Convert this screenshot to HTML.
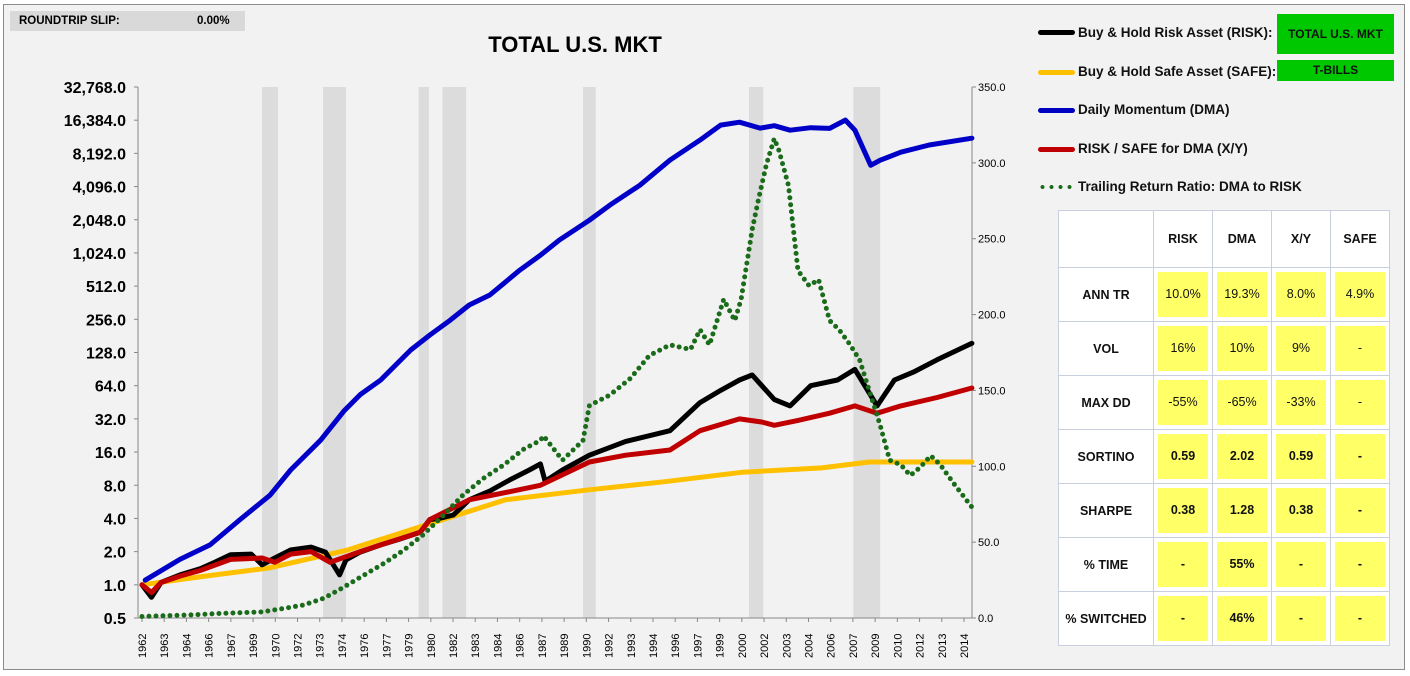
<!DOCTYPE html>
<html><head><meta charset="utf-8"><style>
body{margin:0;background:#fff;font-family:"Liberation Sans",sans-serif;}
#wrap{position:relative;width:1410px;height:676px;background:#fff;}
#frame{position:absolute;left:3px;top:4px;width:1402px;height:666px;background:#f2f2f2;border:1px solid #8c8c8c;box-sizing:border-box;}
.abs{position:absolute;}
.leg{position:absolute;left:1078px;font-weight:bold;font-size:13.5px;color:#111;}
.gbox{position:absolute;background:#00c800;font-weight:bold;font-size:12px;text-align:center;color:#111;}
table{position:absolute;left:1058px;top:210px;border-collapse:collapse;background:#fff;}
td{border:1px solid #c8d0e0;text-align:center;font-size:12.5px;font-weight:bold;color:#111;padding:0;}
td.y span{display:block;background:#ffff66;margin:4px;height:45px;line-height:45px;font-weight:normal;}
tr.b td.y span{font-weight:bold;}
</style></head><body>
<div id="wrap">
<div id="frame"></div>
<div class="abs" style="left:10px;top:11px;width:235px;height:20px;background:#d9d9d9;font-size:11.5px;font-weight:bold;line-height:20px;"><span style="margin-left:9px">ROUNDTRIP SLIP:</span><span style="position:absolute;left:187px">0.00%</span></div>
<div class="abs" style="left:430px;top:32px;width:290px;text-align:center;font-weight:bold;font-size:22px;">TOTAL U.S. MKT</div>
<svg id="svg" class="abs" style="left:0;top:0" width="1410" height="676"></svg>
<div class="abs" style="left:1038px;top:30px;width:37px;height:5px;background:#000;border-radius:3px"></div>
<div class="leg" style="top:25px">Buy &amp; Hold Risk Asset (RISK):</div>
<div class="abs" style="left:1038px;top:70px;width:37px;height:5px;background:#ffc000;border-radius:3px"></div>
<div class="leg" style="top:64px">Buy &amp; Hold Safe Asset (SAFE):</div>
<div class="abs" style="left:1038px;top:108px;width:37px;height:5px;background:#0000c0;border-radius:3px"></div>
<div class="leg" style="top:102px">Daily Momentum (DMA)</div>
<div class="abs" style="left:1038px;top:147px;width:37px;height:5px;background:#c00000;border-radius:3px"></div>
<div class="leg" style="top:141px">RISK / SAFE for DMA (X/Y)</div>
<div class="abs" style="left:1038px;top:185px;width:37px;height:4px;background:radial-gradient(circle,#1a6b1a 1.8px,transparent 2.2px) 0 0/9px 4px repeat-x"></div>
<div class="leg" style="top:179px">Trailing Return Ratio: DMA to RISK</div>
<div class="gbox" style="left:1277px;top:14px;width:117px;height:40px;line-height:40px">TOTAL U.S. MKT</div>
<div class="gbox" style="left:1277px;top:60px;width:117px;height:21px;line-height:21px">T-BILLS</div>
<table>
<tr style="height:57px"><td style="width:94px"></td><td style="width:58px">RISK</td><td style="width:58px">DMA</td><td style="width:58px">X/Y</td><td style="width:58px">SAFE</td></tr>
<tr><td>ANN TR</td><td class="y"><span>10.0%</span></td><td class="y"><span>19.3%</span></td><td class="y"><span>8.0%</span></td><td class="y"><span>4.9%</span></td></tr>
<tr><td>VOL</td><td class="y"><span>16%</span></td><td class="y"><span>10%</span></td><td class="y"><span>9%</span></td><td class="y"><span>-</span></td></tr>
<tr><td>MAX DD</td><td class="y"><span>-55%</span></td><td class="y"><span>-65%</span></td><td class="y"><span>-33%</span></td><td class="y"><span>-</span></td></tr>
<tr class="b"><td>SORTINO</td><td class="y"><span>0.59</span></td><td class="y"><span>2.02</span></td><td class="y"><span>0.59</span></td><td class="y"><span>-</span></td></tr>
<tr class="b"><td>SHARPE</td><td class="y"><span>0.38</span></td><td class="y"><span>1.28</span></td><td class="y"><span>0.38</span></td><td class="y"><span>-</span></td></tr>
<tr class="b"><td>% TIME</td><td class="y"><span>-</span></td><td class="y"><span>55%</span></td><td class="y"><span>-</span></td><td class="y"><span>-</span></td></tr>
<tr class="b"><td>% SWITCHED</td><td class="y"><span>-</span></td><td class="y"><span>46%</span></td><td class="y"><span>-</span></td><td class="y"><span>-</span></td></tr>
</table>
</div>
<script>
const xLabels=["1962","1963","1964","1966","1967","1969","1970","1972","1973","1974","1976","1977","1979","1980","1982","1983","1984","1986","1987","1989","1990","1992","1993","1994","1996","1997","1999","2000","2002","2003","2004","2006","2007","2009","2010","2012","2013","2014"];
const leftTicks=[0.5,1,2,4,8,16,32,64,128,256,512,1024,2048,4096,8192,16384,32768];
const rightTicks=[0,50,100,150,200,250,300,350];
const recessions=[[1969.6,1970.6],[1973.45,1974.9],[1979.5,1980.15],[1981.0,1982.5],[1989.9,1990.7],[2000.4,2001.3],[2007.0,2008.7]];
const dmaYears=[1962.2,1964.4,1966.3,1968.2,1970.1,1971.4,1973.3,1974.8,1975.8,1977.1,1979.0,1980.2,1981.5,1982.7,1984.0,1985.9,1987.2,1988.4,1990.3,1991.6,1993.5,1995.4,1997.3,1998.6,1999.8,2001.1,2002.0,2003.0,2004.3,2005.5,2006.5,2007.1,2008.1,2008.7,2010.0,2011.8,2014.5];
const dmaVals=[1.1,1.7,2.3,3.9,6.5,11,20.5,38,53,72,135,184,252,345,425,715,976,1340,2030,2780,4210,7120,10800,14800,15700,13900,14600,13300,14000,13800,16400,13300,6380,7100,8400,9750,11250];
const riskYears=[1962,1962.6,1963.2,1964.4,1965.7,1966.6,1967.6,1968.9,1969.6,1970.4,1971.4,1972.7,1973.6,1974.5,1974.9,1975.8,1977.1,1978.3,1979.6,1980.2,1980.8,1981.7,1982.7,1984.0,1985.3,1986.5,1987.2,1987.5,1988.6,1990.3,1992.6,1995.4,1997.3,1998.6,1999.8,2000.6,2002.0,2003.0,2004.3,2006.0,2007.1,2008.5,2009.6,2010.8,2012.3,2014.5];
const riskVals=[1.0,0.77,1.05,1.23,1.4,1.6,1.87,1.9,1.52,1.75,2.07,2.2,1.98,1.23,1.68,1.98,2.3,2.6,3.0,3.9,4.0,4.3,5.9,7.1,9.0,11,12.5,8.7,11,15,20,25,45,58,72,80,48,42,64,72,90,42,72,85,110,155];
const xyYears=[1962,1962.6,1963.2,1964.4,1965.7,1967.6,1969.6,1970.4,1971.4,1972.7,1973.9,1975.8,1977.1,1979.6,1980.2,1982.7,1985.3,1987.2,1990.3,1992.6,1995.4,1997.3,1999.8,2001.2,2002.0,2003.5,2005.5,2007.1,2008.5,2010.0,2012.3,2014.5];
const xyVals=[1.0,0.85,1.05,1.2,1.35,1.7,1.75,1.6,1.9,2.0,1.6,2.0,2.3,3.0,3.9,5.9,7,8,13,15,16.7,25,32,30,28,31,36,42,36,42,50,61];
const safeYears=[1962,1966,1970,1975,1980,1985,1990,1995,2000,2005,2008,2014.5];
const safeVals=[1.0,1.2,1.42,2.07,3.5,5.9,7.2,8.6,10.5,11.5,13,13];
const ratioYears=[1962,1963.5,1965,1967,1969.6,1970.8,1972.2,1973.5,1974.7,1976,1977.3,1978.6,1979.8,1981.1,1982.3,1983.6,1984.9,1986.1,1987.2,1987.4,1988.6,1989.9,1990.3,1991.6,1992.9,1994.1,1995.4,1996.7,1997.3,1997.9,1998.8,1999.5,1999.9,2000.6,2001.0,2001.5,2002.0,2002.3,2002.9,2003.5,2004.2,2004.8,2005.5,2006.1,2006.8,2007.4,2008.0,2008.7,2009.3,2010.0,2010.6,2011.2,2011.9,2012.5,2013.4,2014.5];
const ratioVals=[1,1.5,2,3,4,6,8.5,13,20,28,36,45,55,68,81,92,101,111,117,120,104,117,140,147,158,173,180,177,190,180,210,196,210,256,276,299,316,308,285,229,219,223,196,190,180,170,150,127,104,101,94,99,107,101,88,73];

const NS='http://www.w3.org/2000/svg';
const svg=document.getElementById('svg');
const X0=142,X1=964,Y0=618,YT=87,PL=138,PR=972;
const xs=y=>X0+(y-1962)/52*(X1-X0);
const yl=v=>Y0-(Math.log2(v)+1)*(Y0-YT)/16;
const yr=v=>Y0-v*(Y0-YT)/350;
function mk(t,a){const e=document.createElementNS(NS,t);for(const k in a)e.setAttribute(k,a[k]);svg.appendChild(e);return e;}
recessions.forEach(r=>{const e=mk('rect',{x:xs(r[0]),y:YT,width:xs(r[1])-xs(r[0]),height:Y0-YT,fill:'#dcdcdc'});

});
const ax=mk('path',{d:`M${PL} ${YT}V${Y0}H${PR}V${YT}`,stroke:'#888',fill:'none','stroke-width':1});


leftTicks.forEach(v=>{const t=mk('text',{x:126,y:yl(v)+6,'text-anchor':'end','font-size':16,'font-weight':'bold','font-family':'Liberation Sans'});t.textContent=v.toLocaleString('en-US',{minimumFractionDigits:1,maximumFractionDigits:1});


mk('line',{x1:PL-4,x2:PL,y1:yl(v),y2:yl(v),stroke:'#888'});});
rightTicks.forEach(v=>{const t=mk('text',{x:978,y:yr(v)+4,'font-size':11,'font-family':'Liberation Sans'});t.textContent=v.toFixed(1);


mk('line',{x1:PR,x2:PR+4,y1:yr(v),y2:yr(v),stroke:'#888'});});
xLabels.forEach((l,i)=>{const x=X0+i*(X1-X0)/(xLabels.length-1);
mk('line',{x1:x,x2:x,y1:Y0,y2:Y0+4,stroke:'#888'});
const t=mk('text',{x:0,y:0,'font-size':11,'font-family':'Liberation Sans',transform:`translate(${x+4},${Y0+40}) rotate(-90)`});t.textContent=l;

});
function line(ys,vs,f,c,w,name,extra){const p=ys.map((y,i)=>`${xs(y).toFixed(1)},${f(vs[i]).toFixed(1)}`).join(' ');
const e=mk('polyline',Object.assign({points:p,fill:'none',stroke:c,'stroke-width':w,'stroke-linejoin':'round','stroke-linecap':'round'},extra||{}));

}
line(safeYears,safeVals,yl,'#ffc000',5,'safe-line');
line(riskYears,riskVals,yl,'#000',5,'risk-line');
line(xyYears,xyVals,yl,'#c00000',5,'xy-line');
line(dmaYears,dmaVals,yl,'#0000c8',5,'dma-line');
line(ratioYears,ratioVals,yr,'#1a6b1a',5,'ratio-dotted-line',{'stroke-dasharray':'0 7'});
</script>
</body></html>
